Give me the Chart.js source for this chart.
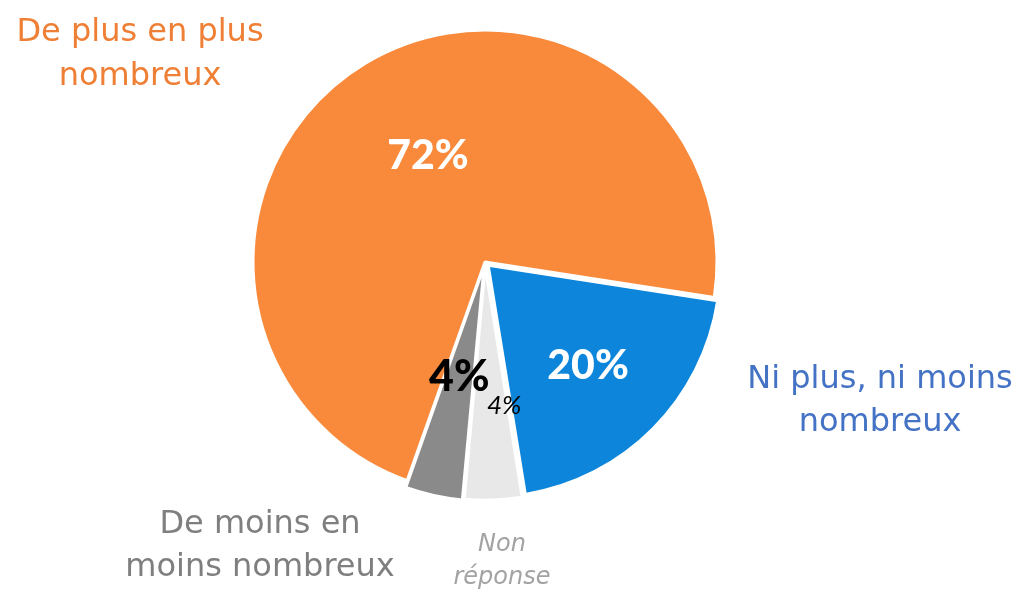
<!DOCTYPE html>
<html>
<head>
<meta charset="utf-8">
<script src="https://cdn.jsdelivr.net/npm/chart.js@4/dist/chart.umd.min.js"></script>
<style>
html,body{margin:0;padding:0;background:#fff;}
#wrap{width:1024px;height:594px;position:relative;}
</style>
</head>
<body>
<div id="wrap"><canvas id="c" width="1024" height="594"></canvas></div>
<script>
// ---- data ----
const categories = ["De plus en plus nombreux", "Ni plus, ni moins nombreux", "Non réponse", "De moins en moins nombreux"];
const values = [72, 20, 4, 4];
const pctLabels = ["72%", "20%", "4%", "4%"];
const categoryLines = [["De plus en plus", "nombreux"], ["Ni plus, ni moins", "nombreux"], ["Non", "réponse"], ["De moins en", "moins nombreux"]];

// ---- styles ----
const sliceColors = ["#F98A3B", "#0C85DA", "#E8E8E8", "#8A8A8A"];
const sliceOffsets = [0, 18, 14, 16];
const pctStyle = [
  {font: "900 41px Lato", color: "#FFFFFF", angFrac: 0.51, radFrac: 0.52},
  {font: "900 41px Lato", color: "#FFFFFF", angFrac: 0.505, radFrac: 0.63},
  {font: "italic 26px Lato", color: "#000000", angFrac: 0.11, radFrac: 0.625},
  {font: "900 43px Lato", color: "#000000", angFrac: 0.51, radFrac: 0.51}
];
const catStyle = [
  {font: "32px 'DejaVu Sans'", color: "#EE7F35", x: 140, y: [33, 77]},
  {font: "32px 'DejaVu Sans'", color: "#4472C4", x: 880, y: [380, 423]},
  {font: "italic 24px 'DejaVu Sans'", color: "#A3A3A3", x: 502, y: [545, 578]},
  {font: "32px 'DejaVu Sans'", color: "#7F7F7F", x: 260, y: [525, 568]}
];

const labelPlugin = {
  id: 'labels',
  afterDatasetsDraw(chart) {
    const ctx = chart.ctx;
    const meta = chart.getDatasetMeta(0);
    ctx.save();
    ctx.textAlign = 'center';
    ctx.textBaseline = 'middle';
    meta.data.forEach((arc, i) => {
      const p = arc.getProps(['x', 'y', 'startAngle', 'endAngle', 'outerRadius'], true);
      const st = pctStyle[i];
      const a = p.startAngle + (p.endAngle - p.startAngle) * st.angFrac;
      const r = p.outerRadius * st.radFrac;
      ctx.font = st.font;
      ctx.fillStyle = st.color;
      ctx.fillText(pctLabels[i], p.x + Math.cos(a) * r, p.y + Math.sin(a) * r);
    });
    categoryLines.forEach((lines, i) => {
      const st = catStyle[i];
      ctx.font = st.font;
      ctx.fillStyle = st.color;
      lines.forEach((ln, j) => ctx.fillText(ln, st.x, st.y[j]));
    });
    ctx.restore();
  }
};

new Chart(document.getElementById('c'), {
  type: 'pie',
  data: {
    labels: categories,
    datasets: [{
      data: values,
      backgroundColor: sliceColors,
      borderColor: '#FFFFFF',
      borderWidth: 3,
      offset: sliceOffsets
    }]
  },
  options: {
    responsive: false,
    animation: false,
    rotation: 199.6,
    layout: {padding: {left: 242.5, right: 296.5, top: 19.5, bottom: 89.5}},
    plugins: {legend: {display: false}, tooltip: {enabled: false}}
  },
  plugins: [labelPlugin]
});
</script>
</body>
</html>
